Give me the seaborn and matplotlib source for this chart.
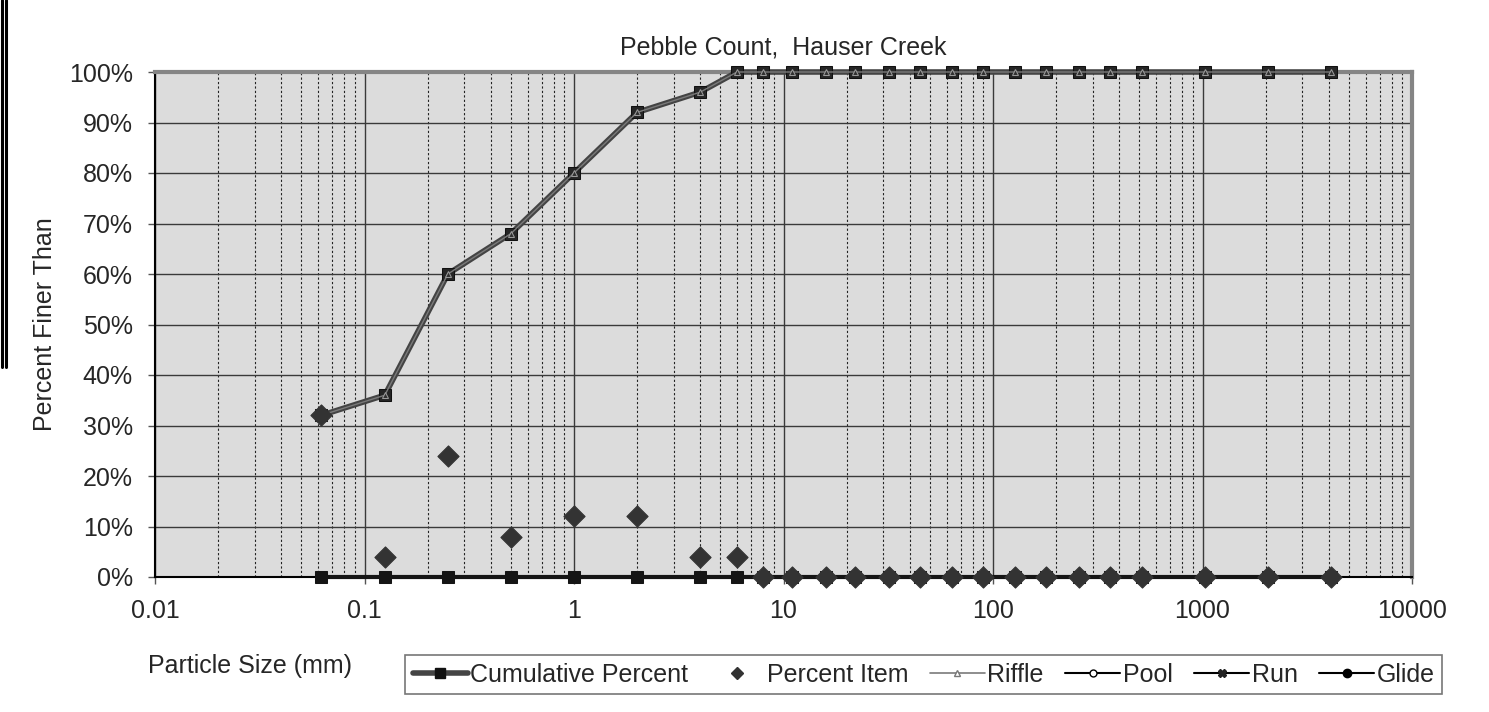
import matplotlib
matplotlib.use("Agg")
import matplotlib.pyplot as plt
from matplotlib.lines import Line2D
from matplotlib.ticker import FixedLocator, FuncFormatter, NullFormatter
import pandas as pd
import seaborn as sns

sns.set_style("ticks")
plt.rcParams["font.family"] = ["Liberation Sans", "DejaVu Sans"]

# particle sizes (mm) and the series
sizes = [0.062, 0.125, 0.25, 0.5, 1, 2, 4, 6, 8, 11, 16, 22, 32, 45,
         64, 90, 128, 180, 256, 362, 512, 1024, 2048, 4096]
cumulative = [32, 36, 60, 68, 80, 92, 96, 100, 100, 100, 100, 100, 100, 100,
              100, 100, 100, 100, 100, 100, 100, 100, 100, 100]
percent_item = [32, 4, 24, 8, 12, 12, 4, 4, 0, 0, 0, 0, 0, 0,
                0, 0, 0, 0, 0, 0, 0, 0, 0, 0]
riffle = cumulative
pool = [0, 0, 0, 0, 0, 0, 0, 0, 0, 0, 0, 0, 0, 0,
        0, 0, 0, 0, 0, 0, 0, 0, 0, 0]
run = pool
glide = pool

yticks = [0, 10, 20, 30, 40, 50, 60, 70, 80, 90, 100]
xticks = [0.01, 0.1, 1, 10, 100, 1000, 10000]
xtick_labels = ["0.01", "0.1", "1", "10", "100", "1000", "10000"]

df = pd.DataFrame({"size": sizes, "cum": cumulative, "item": percent_item,
                   "riffle": riffle, "pool": pool, "run": run, "glide": glide})

FS = 18
W, H = 1489, 712
fig = plt.figure(figsize=(W / 100, H / 100), dpi=100)
ax = fig.add_axes([155 / W, 1 - 577 / H, (1412 - 155) / W, (577 - 72) / H])
ax.set_facecolor("#dcdcdc")
ax.set_xscale("log")
ax.set_xlim(0.01, 10000)
ax.set_ylim(0, 100)

# grid
minor = [m * 10.0 ** e for e in range(-2, 4) for m in range(2, 10)]
ax.xaxis.set_major_locator(FixedLocator(xticks))
ax.xaxis.set_minor_locator(FixedLocator(minor))
ax.xaxis.set_minor_formatter(NullFormatter())
ax.set_xticklabels(xtick_labels)
ax.set_yticks(yticks)
ax.yaxis.set_major_formatter(FuncFormatter(lambda v, p: f"{v:.0f}%"))
ax.grid(True, which="major", axis="both", color="#3a3a3a", lw=1.0, ls="-")
ax.grid(True, which="minor", axis="x", color="#222222", lw=0.8, ls=(0, (2, 2)))
ax.set_axisbelow(True)
ax.tick_params(axis="both", which="major", labelsize=FS, length=5, width=1,
               color="#555555", pad=11)
ax.tick_params(axis="x", which="minor", length=0)

for s in ["left", "bottom"]:
    ax.spines[s].set_color("black")
    ax.spines[s].set_linewidth(1.5)
for s in ["top", "right"]:
    ax.spines[s].set_color("#858585")
    ax.spines[s].set_linewidth(3)

# zero series (pool / run / glide) along the bottom
sns.lineplot(data=df, x="size", y="glide", ax=ax, color="#151515", lw=3,
             marker="s", markersize=8.5, markeredgecolor="#151515",
             clip_on=False, zorder=3, legend=False)
sns.lineplot(data=df, x="size", y="pool", ax=ax, color="#151515", lw=1,
             clip_on=False, zorder=3, legend=False)

# cumulative percent
sns.lineplot(data=df, x="size", y="cum", ax=ax, color="#444444", lw=4,
             marker="s", markersize=9, markerfacecolor="#262626",
             markeredgecolor="#111111", clip_on=False, zorder=4, legend=False)
# riffle on top
sns.lineplot(data=df, x="size", y="riffle", ax=ax, color="#7a7a7a", lw=1,
             marker="^", markersize=5, markerfacecolor="#303030",
             markeredgecolor="#9a9a9a", clip_on=False, zorder=5, legend=False)

# percent item diamonds
sns.scatterplot(data=df, x="size", y="item", ax=ax, marker="D", s=115,
                color="#333333", edgecolor="#333333", clip_on=False,
                zorder=6, legend=False)

ax.set_xlabel("")
ax.set_ylabel("")

fig.text(783 / W, 1 - 48 / H, "Pebble Count,  Hauser Creek", ha="center",
         va="center", fontsize=FS)
fig.text(45 / W, 1 - 324 / H, "Percent Finer Than", rotation=90,
         ha="center", va="center", fontsize=FS)
fig.text(148 / W, 1 - 666 / H, "Particle Size (mm)", ha="left",
         va="center", fontsize=FS)

handles = [
    Line2D([], [], color="#444444", lw=4, marker="s", markersize=7,
           markerfacecolor="#111111", markeredgecolor="#111111"),
    Line2D([], [], color="#333333", lw=0, marker="D", markersize=6),
    Line2D([], [], color="#7a7a7a", lw=1.2, marker="^", markersize=5,
           markerfacecolor="white", markeredgecolor="#777777"),
    Line2D([], [], color="black", lw=1.5, marker="o", markersize=5,
           markerfacecolor="white", markeredgecolor="black"),
    Line2D([], [], color="black", lw=1.5, marker="X", markersize=6,
           markerfacecolor="#222222", markeredgecolor="#222222"),
    Line2D([], [], color="black", lw=1.5, marker="o", markersize=6,
           markerfacecolor="black", markeredgecolor="black"),
]
labels = ["Cumulative Percent", "Percent Item", "Riffle", "Pool", "Run", "Glide"]
leg = fig.legend(handles, labels, loc="lower left",
                 bbox_to_anchor=(405 / W, 1 - 694 / H, 1037 / W, 46 / H),
                 mode="expand", ncol=6, frameon=True, fancybox=False,
                 fontsize=FS, handlelength=2.2, handletextpad=0.1,
                 columnspacing=0.6, borderpad=0.3, borderaxespad=0)
leg.get_frame().set_edgecolor("#555555")
leg.get_frame().set_linewidth(1.2)

# double rule at the left edge
for xp in (1.7, 5.8):
    fig.add_artist(Line2D([xp / W, xp / W], [1, 1 - 367 / H], transform=fig.transFigure,
                          color="black", lw=2.2))

fig.savefig("out.png", dpi=100)
